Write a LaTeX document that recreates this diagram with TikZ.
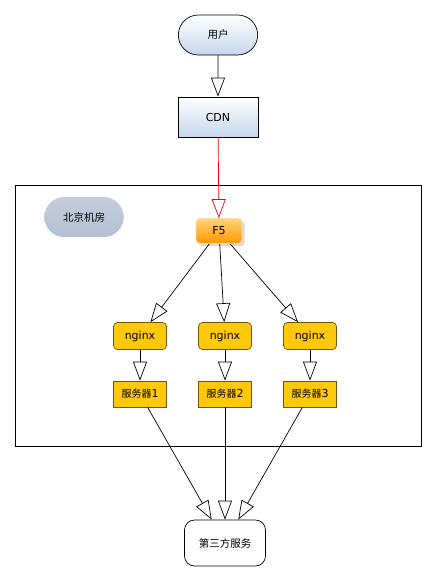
\documentclass[tikz,border=0pt]{standalone}
\usepackage{fontspec}
\setmainfont{DejaVu Sans}
\newfontfamily\cjk{Noto Sans CJK SC}
\usetikzlibrary{arrows.meta,shapes.misc,shadows}

\definecolor{boxblue}{HTML}{C6D6EC}
\definecolor{roomgray}{HTML}{B4C0D2}
\definecolor{gold}{HTML}{FFC80A}
\definecolor{golddraw}{HTML}{6E5500}
\definecolor{orangetop}{HTML}{FFD27A}
\definecolor{orangebot}{HTML}{FF9800}

\newcommand\zhsrv{{\fontsize{10}{11}\cjk 服务器}}

\tikzset{
  hollow/.style={-{Triangle[open,length=19pt,width=14pt]}},
  bluebox/.style={draw,top color=white,bottom color=boxblue,minimum width=80pt,minimum height=40pt},
  goldbox/.style={draw=golddraw,fill=gold,minimum width=53pt,minimum height=27pt},
  zh/.style={font=\fontsize{10.5}{12}\cjk},
}

\begin{document}
\begin{tikzpicture}[x=1pt,y=-1pt,font=\fontsize{11}{12}\selectfont,line width=0.7pt]
  \useasboundingbox (0,0) rectangle (437,576);

  % room frame
  \draw (15,185) rectangle (421,446);

  \begin{scope}[every node/.style={rounded rectangle,zh,minimum height=40pt}]
    \node[bluebox,minimum width=86pt]  (user) at (218,35)  {用户};
    \node[top color=roomgray!80,bottom color=roomgray,
          minimum width=86pt] (room) at (84,217) {北京机房};
  \end{scope}

  \node[bluebox] (cdn) at (218,117) {CDN};

  \node[rounded corners=4pt,draw=orangetop!70,top color=orangetop,bottom color=orangebot,
        minimum width=46pt,minimum height=25pt,drop shadow={opacity=0.3}] (f5) at (219,231) {F5};

  \begin{scope}[every node/.style={goldbox,rounded corners=4pt}]
    \node (ng1) at (140,336) {nginx};
    \node (ng2) at (225,336) {nginx};
    \node (ng3) at (310,336) {nginx};
  \end{scope}

  \begin{scope}[every node/.style={goldbox,minimum height=26pt}]
    \node (srv1) at (140,394) {\zhsrv1};
    \node (srv2) at (225,394) {\zhsrv2};
    \node (srv3) at (310,394) {\zhsrv3};
  \end{scope}

  \node[draw,rounded corners=10pt,fill=white,zh,minimum width=81pt,minimum height=46pt]
    (third) at (225,543) {第三方服务};

  \begin{scope}[every edge/.style={draw,hollow}]
    \path (user) edge (cdn);
    \path (cdn)  edge[red] (f5);
    \path (f5)   edge (ng1);
    \path (f5)   edge (ng2);
    \path (f5)   edge (ng3);
    \path (ng1)  edge (srv1);
    \path (ng2)  edge (srv2);
    \path (ng3)  edge (srv3);
    \path (srv1) edge (third);
    \path (srv2) edge (third);
    \path (srv3) edge (third);
  \end{scope}

\end{tikzpicture}
\end{document}
